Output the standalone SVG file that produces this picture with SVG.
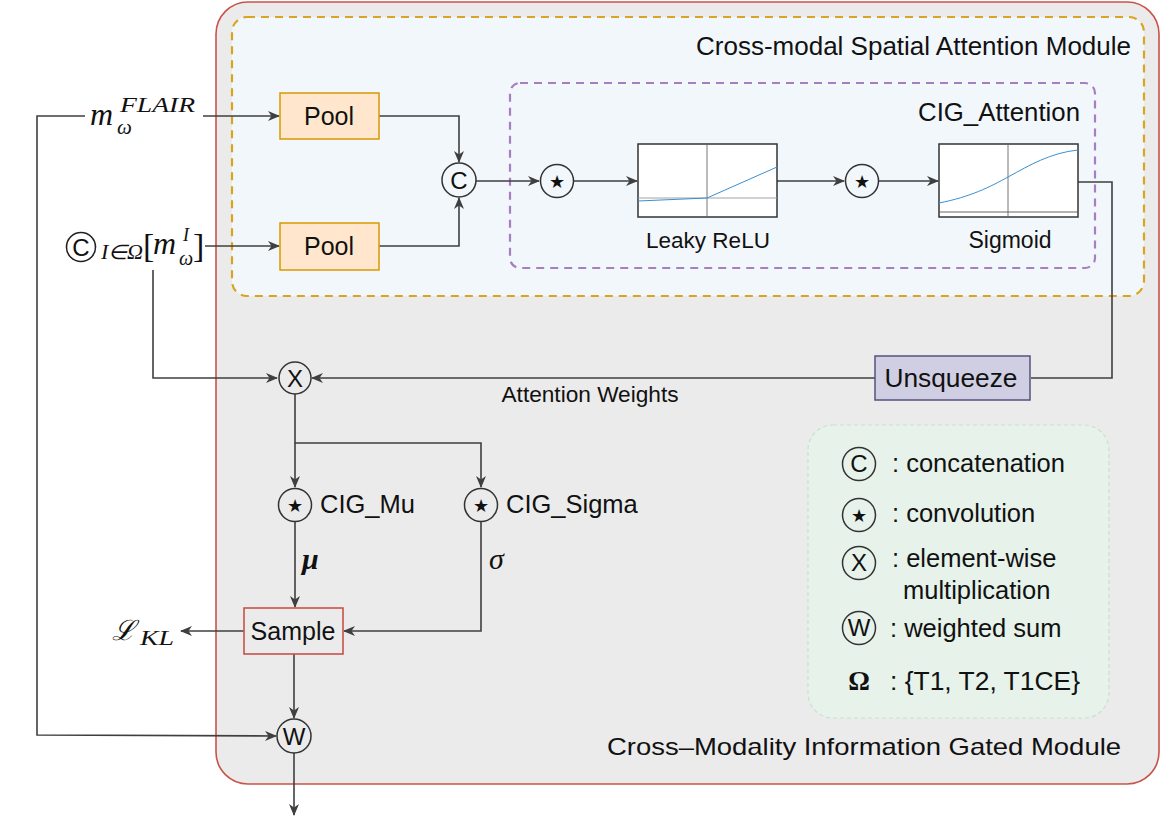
<svg xmlns="http://www.w3.org/2000/svg" width="1163" height="837" viewBox="0 0 1163 837">
<style>
.t{font-family:"Liberation Sans",Arial,sans-serif;fill:#111}
.m{font-family:"Liberation Serif","Times New Roman",serif;font-style:italic;fill:#111}
.ln{fill:none;stroke:#3f3f3f;stroke-width:1.6}
.cir{fill:none;stroke:#333;stroke-width:1.5}
.plot{fill:#fff;stroke:#333;stroke-width:1.5}
.star{font-family:"DejaVu Sans",sans-serif;font-size:18px;fill:#111}
.cl{font-family:"Liberation Sans",Arial,sans-serif;font-size:24px;fill:#111;text-anchor:middle}
</style>
<defs>
<marker id="a" viewBox="0 0 12 10" refX="11" refY="5" markerWidth="12" markerHeight="10" markerUnits="userSpaceOnUse" orient="auto">
<path d="M0,0 L12,5 L0,10 L3.5,5 z" fill="#3f3f3f"/>
</marker>
</defs>
<rect width="1163" height="837" fill="#fff"/>

<g id="cig-module">
<rect x="216" y="2" width="943" height="782" rx="32" fill="#ebebeb" stroke="#c9534a" stroke-width="1.6"/>
<text class="t" x="1121" y="755" font-size="24" text-anchor="end" textLength="514" lengthAdjust="spacingAndGlyphs">Cross–Modality Information Gated Module</text>
</g>
<g id="csa-module">
<rect x="232" y="17" width="912" height="279" rx="15" fill="#f2f7fc" stroke="#d9a520" stroke-width="2.2" stroke-dasharray="8,6"/>
<text class="t" x="1131" y="55" font-size="25" text-anchor="end" textLength="435" lengthAdjust="spacingAndGlyphs">Cross-modal Spatial Attention Module</text>
</g>
<g id="cig-attention">
<rect x="510" y="83" width="585" height="185" rx="10" fill="none" stroke="#a67fc1" stroke-width="2.2" stroke-dasharray="8,6"/>
<text class="t" x="1080" y="121" font-size="25" text-anchor="end" textLength="162" lengthAdjust="spacingAndGlyphs">CIG_Attention</text>
</g>

<g id="connectors">
<path class="ln" d="M203,116 L279,116" marker-end="url(#a)"/>
<path class="ln" d="M205,246 L279,246" marker-end="url(#a)"/>
<path class="ln" d="M379,116 L459,116 L459,162" marker-end="url(#a)"/>
<path class="ln" d="M379,246 L459,246 L459,198" marker-end="url(#a)"/>
<path class="ln" d="M476,181 L539,181" marker-end="url(#a)"/>
<path class="ln" d="M574,181 L637,181" marker-end="url(#a)"/>
<path class="ln" d="M777,181 L844,181" marker-end="url(#a)"/>
<path class="ln" d="M879,181 L938,181" marker-end="url(#a)"/>
<path class="ln" d="M1078,182 L1112,182 L1112,378 L1031,378"/>
<path class="ln" d="M875,378 L312,378" marker-end="url(#a)"/>
<path class="ln" d="M153,270 L153,378 L277,378" marker-end="url(#a)"/>
<path class="ln" d="M295,394 L295,443 L481,443 L481,487" marker-end="url(#a)"/>
<path class="ln" d="M295,443 L295,487" marker-end="url(#a)"/>
<path class="ln" d="M295,522 L295,607" marker-end="url(#a)"/>
<path class="ln" d="M481,522 L481,631 L344,631" marker-end="url(#a)"/>
<path class="ln" d="M244,631 L181,631" marker-end="url(#a)"/>
<path class="ln" d="M294,654 L294,718" marker-end="url(#a)"/>
<path class="ln" d="M85,116 L37,116 L37,735 L276,736" marker-end="url(#a)"/>
<path class="ln" d="M294,753 L294,815" marker-end="url(#a)"/>
<text class="t" x="590" y="402" font-size="22" text-anchor="middle" textLength="177" lengthAdjust="spacingAndGlyphs">Attention Weights</text>
<text class="m" x="302" y="569" font-size="30" font-weight="bold">μ</text>
<text class="m" x="489" y="569" font-size="30">σ</text>
</g>

<g id="input-flair">
<text class="m" x="90" y="125" font-size="32">m</text>
<text class="m" x="117" y="134" font-size="21">ω</text>
<text class="m" x="120" y="112" font-size="21" textLength="75" lengthAdjust="spacingAndGlyphs">FLAIR</text>
</g>
<g id="input-others">
<circle cx="81" cy="247" r="14.5" fill="none" stroke="#222" stroke-width="1.6"/>
<text class="cl" x="81" y="256">C</text>
<text class="m" x="101" y="259" font-size="20" textLength="42" lengthAdjust="spacingAndGlyphs">I∈Ω</text>
<text x="143" y="257" font-family="Liberation Serif,serif" font-size="34" fill="#111">[</text>
<text class="m" x="153" y="254" font-size="32">m</text>
<text class="m" x="179" y="265" font-size="20">ω</text>
<text class="m" x="183" y="241" font-size="18">I</text>
<text x="193" y="257" font-family="Liberation Serif,serif" font-size="34" fill="#111">]</text>
</g>

<g id="pool-1">
<rect x="280" y="93" width="99" height="46" fill="#ffe6cc" stroke="#d79b00" stroke-width="1.5"/>
<text class="t" x="329" y="125" font-size="25" text-anchor="middle">Pool</text>
</g>
<g id="pool-2">
<rect x="280" y="223" width="99" height="47" fill="#ffe6cc" stroke="#d79b00" stroke-width="1.5"/>
<text class="t" x="329" y="255" font-size="25" text-anchor="middle">Pool</text>
</g>
<g id="concat">
<circle cx="459" cy="180" r="17" class="cir"/>
<text class="cl" x="459" y="189">C</text>
</g>
<g id="conv-1">
<circle cx="557" cy="181" r="16.5" class="cir"/>
<text class="star" x="557" y="188" text-anchor="middle">★</text>
</g>
<g id="leaky-relu">
<rect x="638" y="144" width="139" height="73" class="plot"/>
<line x1="707" y1="144" x2="707" y2="217" stroke="#666" stroke-width="0.9"/>
<line x1="638" y1="198" x2="777" y2="198" stroke="#999" stroke-width="0.9"/>
<path d="M638,201 L707,198 L777,167" fill="none" stroke="#3b8fd0" stroke-width="1"/>
<text class="t" x="708" y="248" font-size="22.5" text-anchor="middle">Leaky ReLU</text>
</g>
<g id="conv-2">
<circle cx="862" cy="181" r="16.5" class="cir"/>
<text class="star" x="862" y="188" text-anchor="middle">★</text>
</g>
<g id="sigmoid">
<rect x="939" y="144" width="139" height="73" class="plot"/>
<line x1="1008" y1="144" x2="1008" y2="217" stroke="#666" stroke-width="0.9"/>
<line x1="939" y1="212" x2="1078" y2="212" stroke="#555" stroke-width="0.9"/>
<path d="M939,203 C970,197 990,187 1008,177 C1030,165 1050,153 1078,150" fill="none" stroke="#3b8fd0" stroke-width="1"/>
<text class="t" x="1010" y="248" font-size="23" text-anchor="middle">Sigmoid</text>
</g>
<g id="unsqueeze">
<rect x="875" y="356" width="155" height="44" fill="#d0cee2" stroke="#56517e" stroke-width="1.5"/>
<text class="t" x="951" y="387" font-size="25" text-anchor="middle" textLength="133" lengthAdjust="spacingAndGlyphs">Unsqueeze</text>
</g>
<g id="multiply">
<circle cx="295" cy="378" r="16" class="cir"/>
<text class="cl" x="295" y="387">X</text>
</g>
<g id="cig-mu">
<circle cx="295" cy="505" r="16.5" class="cir"/>
<text class="star" x="295" y="512" text-anchor="middle">★</text>
<text class="t" x="320" y="513" font-size="25.5">CIG_Mu</text>
</g>
<g id="cig-sigma">
<circle cx="481" cy="505" r="16.5" class="cir"/>
<text class="star" x="481" y="512" text-anchor="middle">★</text>
<text class="t" x="506" y="513" font-size="25.5">CIG_Sigma</text>
</g>
<g id="sample">
<rect x="244" y="608" width="99" height="46" fill="#ebebeb" stroke="#c9534a" stroke-width="1.6"/>
<text class="t" x="293" y="640" font-size="25" text-anchor="middle">Sample</text>
</g>
<g id="kl-loss">
<text x="112" y="640" font-family="DejaVu Serif,serif" font-style="italic" font-size="28" fill="#111">ℒ</text>
<text class="m" x="140" y="645" font-size="21" textLength="34" lengthAdjust="spacingAndGlyphs">KL</text>
</g>
<g id="weighted-sum">
<circle cx="294" cy="736" r="17" class="cir"/>
<text class="cl" x="294" y="745">W</text>
</g>

<g id="legend">
<rect x="808" y="425" width="301" height="293" rx="25" fill="#e6f2ea" stroke="#c5e3cc" stroke-width="1.2" stroke-dasharray="4,3"/>
<circle cx="859" cy="464" r="16.5" class="cir"/>
<text class="cl" x="859" y="472" font-size="23">C</text>
<text class="t" x="892" y="472" font-size="25.5">: concatenation</text>
<circle cx="859" cy="515" r="16.5" class="cir"/>
<text class="star" x="859" y="522" text-anchor="middle">★</text>
<text class="t" x="892" y="522" font-size="25.5">: convolution</text>
<circle cx="859" cy="563" r="16.5" class="cir"/>
<text class="cl" x="859" y="571" font-size="23">X</text>
<text class="t" x="892" y="567" font-size="25.5">: element-wise</text>
<text class="t" x="903" y="599" font-size="25.5">multiplication</text>
<circle cx="859" cy="628" r="16.5" class="cir"/>
<text class="cl" x="859" y="636" font-size="23">W</text>
<text class="t" x="890" y="637" font-size="25.5">: weighted sum</text>
<text x="859" y="690" font-family="Liberation Serif,serif" font-weight="bold" font-size="27" fill="#111" text-anchor="middle">Ω</text>
<text class="t" x="890" y="690" font-size="25.5" textLength="190" lengthAdjust="spacingAndGlyphs">: {T1, T2, T1CE}</text>
</g>
</svg>
